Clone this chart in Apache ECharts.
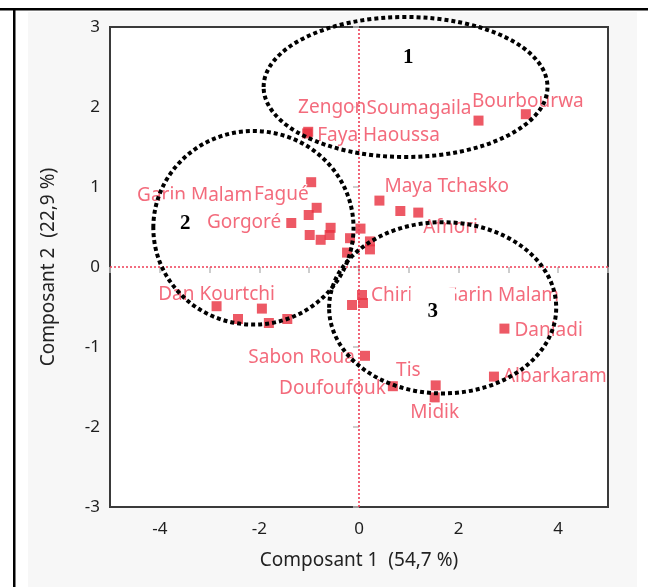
<!DOCTYPE html>
<html>
<head>
<meta charset="utf-8">
<script src="https://cdn.jsdelivr.net/npm/echarts@6/dist/echarts.min.js"></script>
<style>
  html, body { margin: 0; padding: 0; background: #ffffff; }
  #chart { width: 648px; height: 587px; }
</style>
</head>
<body>
<div id="chart"></div>
<script>
// Village scores on the first two principal components
const siteNames = [
  'Faya Haoussa', 'Zengon', 'Soumagaila', 'Bourbourwa',
  'Garin Malam', 'Fagué', '', 'Gorgoré', '', '', '', '',
  '', '', '', '', '',
  'Maya Tchasko', '', 'Afnori',
  'Dan Kourtchi', '', '', '', '',
  '', 'Chiria', 'Garin Malam', 'Sabon Roua', 'Doufoufouk',
  'Tis', 'Midik', 'Danladi', 'Albarkaram'
];
const comp1 = [
  -1.04, -1.02, 2.40, 3.35,
  -0.96, -0.85, -1.01, -1.36, -0.99, -0.57, -0.77, -0.59,
  0.03, -0.18, 0.22, 0.22, -0.24,
  0.41, 0.83, 1.19,
  -2.86, -2.43, -1.95, -1.81, -1.44,
  -0.14, 0.06, 0.08, 0.12, 0.68,
  1.54, 1.52, 2.92, 2.71
];
const comp2 = [
  1.67, 1.69, 1.83, 1.91,
  1.06, 0.74, 0.65, 0.55, 0.40, 0.49, 0.34, 0.40,
  0.48, 0.36, 0.32, 0.22, 0.18,
  0.83, 0.70, 0.68,
  -0.49, -0.65, -0.52, -0.70, -0.65,
  -0.475, -0.35, -0.45, -1.11, -1.49,
  -1.48, -1.63, -0.77, -1.37
];

// Groups circled on the plot: centre (x, y) and radii (rx, ry) in axis units,
// plus the number written inside each group
const groupCx = [0.935, -2.12, 1.68];
const groupCy = [2.25, 0.49, -0.51];
const groupRx = [2.85, 2.01, 2.28];
const groupRy = [0.875, 1.21, 1.07];
const groupTags = ['1', '2', '3'];
const groupTagX = [0.99, -3.49, 1.48];
const groupTagY = [2.62, 0.54, -0.56];

// Axis settings
const xMin = -5, xMax = 5, xStep = 1;
const yMin = -3, yMax = 3, yStep = 1;
const xTitle = 'Composant 1  (54,7 %)';
const yTitle = 'Composant 2  (22,9 %)';

// Where each point's name sits around its marker: side, then a pixel nudge
const labelSpots = [
  ['right', [0, 2]], ['top', [24, -5]], ['left', [3, -12]], ['top', [2, 7]],
  ['left', [-49, 13]], ['left', [2, -13]], null, ['left', [0, 0]], null, null, null, null,
  null, null, null, null, null,
  ['right', [-5, -14]], null, ['right', [-5, 15]],
  ['top', [0, 8]], null, null, null, null,
  null, ['right', [-1, 1]], ['right', [71, -7]], ['left', [0, 2]], ['left', [3, 2]],
  ['left', [-5, -15]], ['bottom', [0, -4]], ['right', [0, 2]], ['right', [-1, 0]]
];

const markRed = '#e8303e';
const textRed = '#f0465b';
const uiFont = '"Noto Sans", "Open Sans", sans-serif';

const pointData = siteNames.map((name, i) => {
  const spot = labelSpots[i];
  const item = { name: name, value: [comp1[i], comp2[i]] };
  if (spot && name) {
    item.label = { show: true, position: spot[0], distance: 5 };
  }
  return item;
});

const groupData = groupCx.map((cx, i) => [cx, groupCy[i], groupRx[i], groupRy[i], groupTagX[i], groupTagY[i], i]);

const chart = echarts.init(document.getElementById('chart'), null, { renderer: 'canvas' });

chart.setOption({
  animation: false,
  backgroundColor: '#ffffff',
  graphic: [
    { type: 'rect', z: -10, shape: { x: 28, y: 12, width: 609, height: 575 }, style: { fill: '#f7f7f7' } },
    { type: 'rect', z: -5, shape: { x: 0, y: 8, width: 648, height: 2.5 }, style: { fill: '#000000' } },
    { type: 'rect', z: -5, shape: { x: 13, y: 8, width: 2.5, height: 579 }, style: { fill: '#000000' } }
  ],
  grid: {
    left: 110, top: 27, width: 498, height: 480,
    show: true, backgroundColor: '#ffffff', borderColor: '#3a3a3a', borderWidth: 2
  },
  xAxis: {
    type: 'value', min: xMin, max: xMax, interval: xStep,
    name: xTitle, nameLocation: 'middle', nameGap: 44,
    nameTextStyle: { fontFamily: uiFont, fontSize: 19, color: '#222' },
    axisLine: { show: false },
    axisTick: { show: true, length: 6, lineStyle: { color: '#bdbdbd', width: 1.5 } },
    splitLine: { show: false },
    axisLabel: {
      margin: 14, fontFamily: uiFont, fontSize: 17, color: '#1e1e1e',
      formatter: v => (Math.round(v) % 2 === 0 && Math.abs(v) < 5 ? String(v) : '')
    }
  },
  yAxis: {
    type: 'value', min: yMin, max: yMax, interval: yStep,
    name: yTitle, nameLocation: 'middle', nameGap: 52, nameRotate: 90,
    nameTextStyle: { fontFamily: uiFont, fontSize: 19, color: '#222' },
    axisLine: { show: false },
    axisTick: { show: true, length: 6, lineStyle: { color: '#bdbdbd', width: 1.5 } },
    splitLine: { show: false },
    axisLabel: { margin: 10, fontFamily: uiFont, fontSize: 17, color: '#1e1e1e' }
  },
  series: [
    {
      type: 'scatter',
      symbol: 'rect',
      symbolSize: 10,
      itemStyle: { color: markRed },
      data: pointData,
      label: {
        show: false,
        formatter: '{b}',
        fontFamily: uiFont, fontSize: 19, color: textRed,
        textBorderColor: '#ffffff', textBorderWidth: 2
      },
      // nudge each name away from its default side position
      labelLayout: params => {
        const spot = labelSpots[params.dataIndex];
        return spot ? { dx: spot[1][0], dy: spot[1][1], hideOverlap: false } : {};
      },
      markLine: {
        silent: true, symbol: 'none',
        label: { show: false },
        emphasis: { disabled: true },
        lineStyle: { color: '#ee3d55', type: [2, 2], width: 1.6, opacity: 1 },
        data: [{ xAxis: 0 }, { yAxis: 0 }]
      },
      z: 3
    },
    {
      // dotted rings around each group, with the group number on a white patch
      type: 'custom',
      clip: false,
      z: 8,
      data: groupData,
      renderItem: (params, api) => {
        const c = api.coord([api.value(0), api.value(1)]);
        const s = api.size([api.value(2), api.value(3)]);
        const t = api.coord([api.value(4), api.value(5)]);
        return {
          type: 'group',
          children: [
            {
              type: 'ellipse',
              shape: { cx: c[0], cy: c[1], rx: s[0], ry: s[1] },
              style: { fill: 'none', stroke: '#000000', lineWidth: 4, lineDash: [4, 3] }
            },
            {
              type: 'text',
              x: t[0], y: t[1],
              style: {
                text: groupTags[api.value(6)],
                font: 'bold 21px "Liberation Serif", "DejaVu Serif", serif',
                fill: '#000000',
                align: 'center', verticalAlign: 'middle',
                backgroundColor: '#ffffff', padding: [14, 17]
              }
            }
          ]
        };
      }
    }
  ]
});
</script>
</body>
</html>
